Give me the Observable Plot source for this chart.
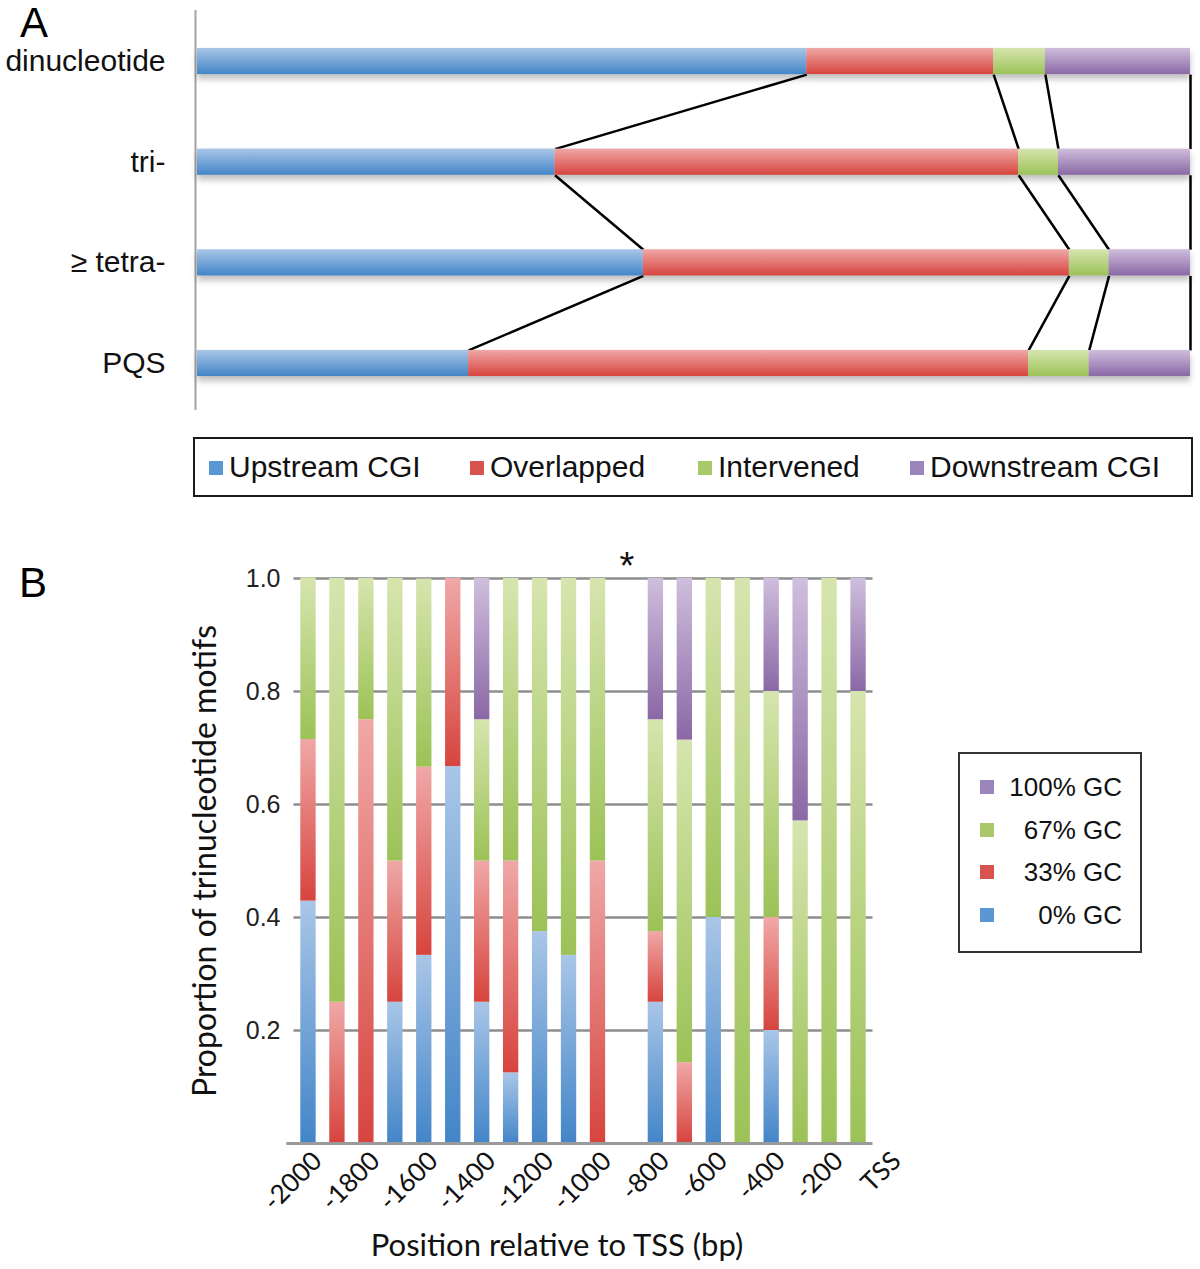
<!DOCTYPE html>
<html><head><meta charset="utf-8">
<script src="https://cdn.jsdelivr.net/npm/d3@7"></script>
<script src="https://cdn.jsdelivr.net/npm/@observablehq/plot@0.6"></script>
<style>
body{margin:0;background:#fff;}
#root{position:relative;width:1200px;height:1269px;overflow:hidden;font-family:"Liberation Sans",Arial,sans-serif;color:#111}
.panelA g[aria-label="rect"]{filter:drop-shadow(0px 5px 3px rgba(0,0,0,0.25));}
.panelLetter{position:absolute;font-size:42px;line-height:38px;font-family:"Liberation Sans",Arial,sans-serif;color:#000}
.legA{position:absolute;left:193px;top:437px;width:996px;height:56px;border:2px solid #1a1a1a;}
.legB{position:absolute;left:958px;top:752px;width:180px;height:197px;border:2.5px solid #333;}
.sw{position:absolute;width:14px;height:14px}
.lt{position:absolute;white-space:nowrap;line-height:1}
</style></head>
<body>
<svg width="0" height="0" style="position:absolute">
 <defs>
  <linearGradient id="gBlue" x1="0" y1="0" x2="0" y2="1"><stop offset="0" stop-color="#a9c6e7"/><stop offset="1" stop-color="#4385c8"/></linearGradient>
  <linearGradient id="gRed" x1="0" y1="0" x2="0" y2="1"><stop offset="0" stop-color="#efa8a7"/><stop offset="1" stop-color="#d7443e"/></linearGradient>
  <linearGradient id="gGreen" x1="0" y1="0" x2="0" y2="1"><stop offset="0" stop-color="#d6e5ae"/><stop offset="1" stop-color="#9cc257"/></linearGradient>
  <linearGradient id="gPurple" x1="0" y1="0" x2="0" y2="1"><stop offset="0" stop-color="#cfbedd"/><stop offset="1" stop-color="#8a68a5"/></linearGradient>
 </defs>
</svg>
<div id="root"></div>
<script>
// ---------- Panel A data ----------
const motifClasses = ["dinucleotide", "tri-", "≥ tetra-", "PQS"];
const regionNames = ["Upstream CGI", "Overlapped", "Intervened", "Downstream CGI"];
const upstream   = [61.3, 36.0, 44.9, 27.3];
const overlapped = [18.8, 46.7, 42.9, 56.4];
const intervened = [5.2, 4.0, 4.0, 6.1];
const downstream = [14.6, 13.3, 8.2, 10.2];

// ---------- Panel B data ----------
const positions = [-2000, -1900, -1800, -1700, -1600, -1500, -1400, -1300, -1200, -1100,
                   -1000, -900, -800, -700, -600, -500, -400, -300, -200, -100];
const gc0   = [0.429, 0, 0, 0.25, 0.333, 0.667, 0.25, 0.125, 0.375, 0.333, 0, 0, 0.25, 0, 0.4, 0, 0.2, 0, 0, 0];
const gc33  = [0.286, 0.25, 0.75, 0.25, 0.333, 0.333, 0.25, 0.375, 0, 0, 0.5, 0, 0.125, 0.143, 0, 0, 0.2, 0, 0, 0];
const gc67  = [0.286, 0.75, 0.25, 0.5, 0.333, 0, 0.25, 0.5, 0.625, 0.667, 0.5, 0, 0.375, 0.571, 0.6, 1, 0.4, 0.571, 1, 0.8];
const gc100 = [0, 0, 0, 0, 0, 0, 0.25, 0, 0, 0, 0, 0, 0.25, 0.286, 0, 0, 0.2, 0.429, 0, 0.2];
const gcNames = ["0% GC", "33% GC", "67% GC", "100% GC"];
const tickValues = [-2000, -1800, -1600, -1400, -1200, -1000, -800, -600, -400, -200, 0];
const tickLabels = ["-2000", "-1800", "-1600", "-1400", "-1200", "-1000", "-800", "-600", "-400", "-200", "TSS"];
const yTicks = [0.2, 0.4, 0.6, 0.8, 1.0];
const starPositions = [-900];
const yTitle = "Proportion of trinucleotide motifs";
const xTitle = "Position relative to TSS (bp)";

// ---------- styles ----------
const gradFill = ["url(#gBlue)", "url(#gRed)", "url(#gGreen)", "url(#gPurple)"];
const swatch = ["#5b98d3", "#d9534e", "#a8c86a", "#9a85bc"];

const root = document.getElementById("root");

// ---------- Panel A ----------
const regionSeries = [upstream, overlapped, intervened, downstream];
const segA = [], cumA = [];
motifClasses.forEach((m, r) => {
  const total = d3.sum(regionSeries, s => s[r]);
  let acc = 0; const ends = [];
  regionSeries.forEach((s, k) => {
    const v = s[r] / total * 100;
    segA.push({row: r, x1: acc, x2: acc + v, fill: gradFill[k]});
    acc += v; ends.push(acc);
  });
  cumA.push(ends);
});
const linksA = [];
for (let r = 0; r < motifClasses.length - 1; r++)
  for (let k = 0; k < regionSeries.length; k++)
    linksA.push({r, x1: cumA[r][k], x2: cumA[r + 1][k]});
const half = 0.13;

const plotA = Plot.plot({
  width: 1200, height: 420,
  marginLeft: 197, marginRight: 10, marginTop: 10, marginBottom: 10,
  className: "panelA",
  style: {fontFamily: "'Liberation Sans', Arial, sans-serif", background: "transparent", overflow: "visible", color: "#111"},
  x: {domain: [0, 100], axis: null},
  y: {domain: [0, motifClasses.length - 1], range: [61, 363]},
  color: {type: "identity"},
  marks: [
    Plot.ruleX([0], {stroke: "#a3a3a3", strokeWidth: 2, dx: -2}),
    Plot.link(linksA, {x1: "x1", x2: "x2", y1: d => d.r + half, y2: d => d.r + 1 - half, stroke: "#000", strokeWidth: 2.5}),
    Plot.rect(segA, {x1: "x1", x2: "x2", y1: d => d.row - half, y2: d => d.row + half, fill: "fill"}),
    Plot.axisY({ticks: motifClasses.map((_, i) => i), tickFormat: i => motifClasses[i], tickSize: 0, tickPadding: 32, fontSize: 30, color: "#111"})
  ]
});
plotA.style.position = "absolute"; plotA.style.left = "0px"; plotA.style.top = "0px";
root.appendChild(plotA);

// ---------- Panel B ----------
const gcSeries = [gc0, gc33, gc67, gc100];
const segB = [];
positions.forEach((p, i) => {
  let acc = 0;
  gcSeries.forEach((s, k) => {
    if (s[i] > 0) segB.push({pos: p, y1: acc, y2: acc + s[i], fill: gradFill[k]});
    acc += s[i];
  });
});
const slot = positions[1] - positions[0];
const xLo = positions[0] - slot / 2, xHi = positions[positions.length - 1] + slot / 2;
const barHalf = slot * 0.265;

const plotB = Plot.plot({
  width: 1200, height: 749,
  marginTop: 58, marginBottom: 126, marginLeft: 293, marginRight: 326,
  style: {fontFamily: "Lato, 'Liberation Sans', sans-serif", background: "transparent", overflow: "visible", color: "#111"},
  x: {domain: [xLo, tickValues[tickValues.length - 1]], range: [293.5, 293.5 + (tickValues[tickValues.length - 1] - xLo) * 0.2895]},
  y: {domain: [0, 1], range: [623, 58]},
  color: {type: "identity"},
  marks: [
    Plot.ruleY(yTicks, {x1: xLo, x2: xHi, stroke: "#8e8e8e", strokeWidth: 2.5}),
    Plot.rect(segB, {x1: d => d.pos - barHalf, x2: d => d.pos + barHalf, y1: "y1", y2: "y2", fill: "fill"}),
    Plot.ruleY([0], {x1: xLo - slot * 0.25, x2: xHi, stroke: "#9a9a9a", strokeWidth: 3}),
    Plot.axisY({ticks: yTicks, tickFormat: d3.format(".1f"), tickSize: 0, tickPadding: 13, fontSize: 25, fontFamily: "'Liberation Sans', Arial, sans-serif", color: "#222"}),
    Plot.axisX({ticks: tickValues, tickFormat: d => tickLabels[tickValues.indexOf(d)], rotate: -45, textAnchor: "end", tickSize: 0, tickPadding: 6, dx: 2, fontSize: 26, color: "#111"}),
    Plot.text(starPositions, {x: d => d, y: 1, text: () => "*", dy: -12, fontSize: 38, fontFamily: "'Liberation Sans', Arial, sans-serif"}),
    Plot.text([yTitle], {text: d => d, frameAnchor: "left", textAnchor: "middle", rotate: -90, dx: -88, fontSize: 32}),
    Plot.text([xTitle], {text: d => d, frameAnchor: "bottom", textAnchor: "middle", dx: -27, dy: 112, fontSize: 31})
  ]
});
plotB.style.position = "absolute"; plotB.style.left = "0px"; plotB.style.top = "520px";
root.appendChild(plotB);

// ---------- panel letters ----------
for (const [t, l, tp] of [["A", 20, 4], ["B", 19, 564]]) {
  const d = document.createElement("div");
  d.className = "panelLetter"; d.textContent = t;
  d.style.left = l + "px"; d.style.top = tp + "px";
  root.appendChild(d);
}

// ---------- legend A ----------
const legA = document.createElement("div"); legA.className = "legA"; root.appendChild(legA);
const legAx = [14, 275, 503, 715];
regionNames.forEach((name, k) => {
  const s = document.createElement("div"); s.className = "sw";
  s.style.left = legAx[k] + "px"; s.style.top = "22px"; s.style.background = swatch[k];
  const t = document.createElement("div"); t.className = "lt";
  t.style.left = (legAx[k] + 20) + "px"; t.style.top = "13px"; t.style.fontSize = "30px";
  t.textContent = name;
  legA.appendChild(s); legA.appendChild(t);
});

// ---------- legend B ----------
const legB = document.createElement("div"); legB.className = "legB"; root.appendChild(legB);
const order = [3, 2, 1, 0];
order.forEach((k, j) => {
  const cy = 33 + j * 42.5;
  const s = document.createElement("div"); s.className = "sw";
  s.style.left = "20px"; s.style.top = (cy - 7) + "px"; s.style.background = swatch[k];
  const t = document.createElement("div"); t.className = "lt";
  t.style.right = "18px"; t.style.top = (cy - 13) + "px"; t.style.fontSize = "26px";
  t.textContent = gcNames[k];
  legB.appendChild(s); legB.appendChild(t);
});
</script>
</body></html>
